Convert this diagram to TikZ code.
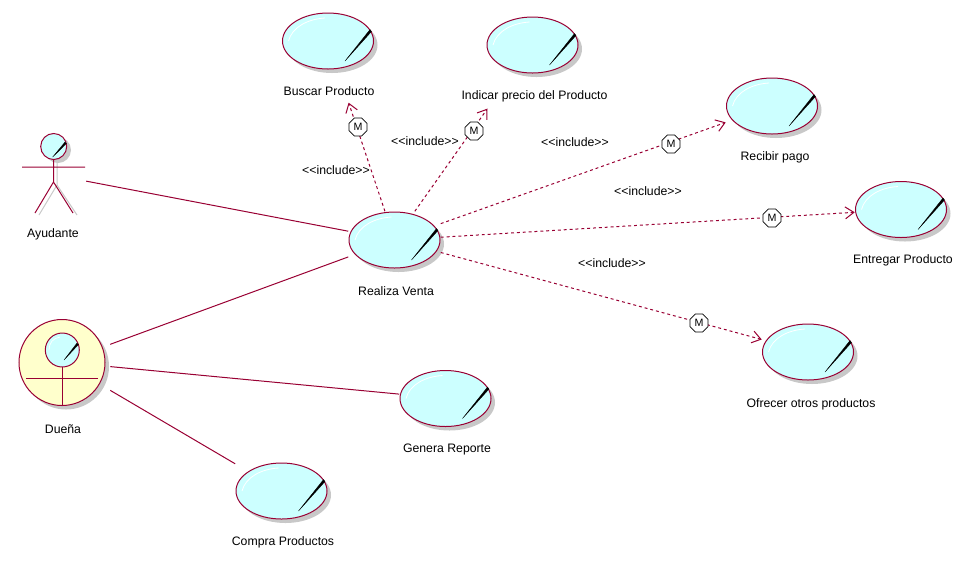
\documentclass[tikz,border=0pt]{standalone}
\usepackage{fontspec}
\setmainfont{Liberation Sans}
\usetikzlibrary{
  arrows.meta,
  shapes.geometric
}
\definecolor{rosered}{HTML}{990033}
\definecolor{rosecyan}{HTML}{CCFFFF}
\definecolor{roseyellow}{HTML}{FFFFCC}
\definecolor{roseshadow}{HTML}{C8C8C8}
\begin{document}
\begin{tikzpicture}[
      x=0.75pt,y=-0.75pt,
      >={Straight Barb[length=6.5pt,width=9pt]},
      usecase/.style={
         rectangle,
         inner sep=0pt,
         minimum width=69pt,
         minimum height=42.75pt
      },
      actorbox/.style={
         rectangle,
         inner sep=0pt,
         minimum width=#1,
         minimum height=#1
      },
      caption/.style={
         font=\fontsize{9.2pt}{11pt}\selectfont,
         inner sep=0pt
      },
      assoc/.style={draw=rosered,line width=0.75pt},
      incl/.style={assoc,dash pattern=on 2.2pt off 2.2pt,->},
      limb/.style={assoc},
      limbshadow/.style={draw=roseshadow,line width=0.75pt},
      marker/.style={
         regular polygon,
         regular polygon sides=8,
         draw=black,
         line width=0.6pt,
         fill=white,
         inner sep=0pt,
         minimum size=14.5pt,
         font=\fontsize{8pt}{9pt}\selectfont
      },
      wedge/.style={fill=black,draw=black,line width=0.2pt}
    ]
  \useasboundingbox (0,0) rectangle (962,562);
  % use cases
  \node (realiza) [usecase] at (394.5,240) {};
  \node (buscar) [usecase] at (328,41) {};
  \node (indicar) [usecase] at (532.5,45) {};
  \node (recibir) [usecase] at (772,106) {};
  \node (entregar) [usecase] at (901,209.5) {};
  \node (ofrecer) [usecase] at (808,352) {};
  \node (genera) [usecase] at (445.5,398.5) {};
  \node (compra) [usecase] at (281.5,491) {};
  \foreach \uc in {realiza,buscar,indicar,recibir,entregar,ofrecer,genera,compra} {
    \begin{scope}[shift={(\uc)}]
      \fill[roseshadow] (4,4) ellipse [x radius=45.5,y radius=28];
      \draw[assoc,fill=rosecyan] (0,0) ellipse [x radius=45.5,y radius=28];
      \draw[white,line width=0.6pt] (-39.5,0) .. controls (-36,-14) and (-20,-22) .. (-3,-23);
      \path[wedge] (17,20) -- (42,-11.5) -- (43.5,-9.5) -- cycle;
    \end{scope}
  }
  % actors
  \node (ayudante) [actorbox=48pt] at (54,175) {};
  \draw[limbshadow] (57,160) -- (57,185) -- (39,215) (57,185) -- (77,215);
  \fill[roseshadow] (58,150) circle [radius=13];
  \draw[limb,fill=rosecyan] (53.7,146.5) circle [radius=13];
  \draw[limb] (53.5,159.5) -- (53.5,182) -- (35,213) (53.5,182) -- (73,213) (22,167) -- (85,167);
  \path[wedge] (52.7,157) -- (65,142) -- (66.5,143.5) -- cycle;
  \node (duena) [actorbox=72pt] at (62,362) {};
  \fill[roseshadow] (66,366.5) circle [radius=43];
  \draw[limb,fill=roseyellow] (62,362.5) circle [radius=43];
  \draw[limb,fill=rosecyan] (62.3,350) circle [radius=17];
  \draw[limb] (62.3,367) -- (62.3,405.5) (26,378) -- (98,378);
  \draw[white,line width=0.5pt] (49,350) .. controls (49,343) and (53,338) .. (60,337);
  \path[wedge] (64,360) -- (77,343) -- (78.5,344.5) -- cycle;
  % connectors
  \draw[assoc] (ayudante) -- (realiza);
  \draw[assoc] (duena) -- (realiza);
  \draw[assoc] (duena) -- (genera);
  \draw[assoc] (duena) -- (compra);
  \draw[incl,shorten >=26pt] (realiza) -- (buscar);
  \draw[incl,shorten >=32pt] (realiza) -- (indicar);
  \draw[incl] (realiza) -- (recibir);
  \draw[incl] (realiza) -- (entregar);
  \draw[incl] (realiza) -- (ofrecer);
  \node (mbuscar) [marker] at (358,127) {M};
  \node (mindicar) [marker] at (474,131) {M};
  \node (mrecibir) [marker] at (671,144) {M};
  \node (mentregar) [marker] at (772,218) {M};
  \node (mofrecer) [marker] at (699,323) {M};
  % labels
  \node (lrealiza) [caption] at (396,291) {Realiza Venta};
  \node (lbuscar) [caption] at (329,91) {Buscar Producto};
  \node (lindicar) [caption] at (534.5,96) {Indicar precio del Producto};
  \node (lrecibir) [caption] at (775,157.5) {Recibir pago};
  \node (lentregar) [caption] at (903,260) {Entregar Producto};
  \node (lofrecer) [caption] at (811,404) {Ofrecer otros productos};
  \node (lgenera) [caption] at (447,449.5) {Genera Reporte};
  \node (lcompra) [caption] at (283,542) {Compra Productos};
  \node (layudante) [caption] at (53,234) {Ayudante};
  \node (lduena) [caption] at (63,429) {Dueña};
  \node (ibuscar) [caption] at (336,170.5) {{<}{<}include{>}{>}};
  \node (iindicar) [caption] at (425,141.5) {{<}{<}include{>}{>}};
  \node (irecibir) [caption] at (575,142.5) {{<}{<}include{>}{>}};
  \node (ientregar) [caption] at (648,191.5) {{<}{<}include{>}{>}};
  \node (iofrecer) [caption] at (612,263.5) {{<}{<}include{>}{>}};
\end{tikzpicture}
\end{document}
